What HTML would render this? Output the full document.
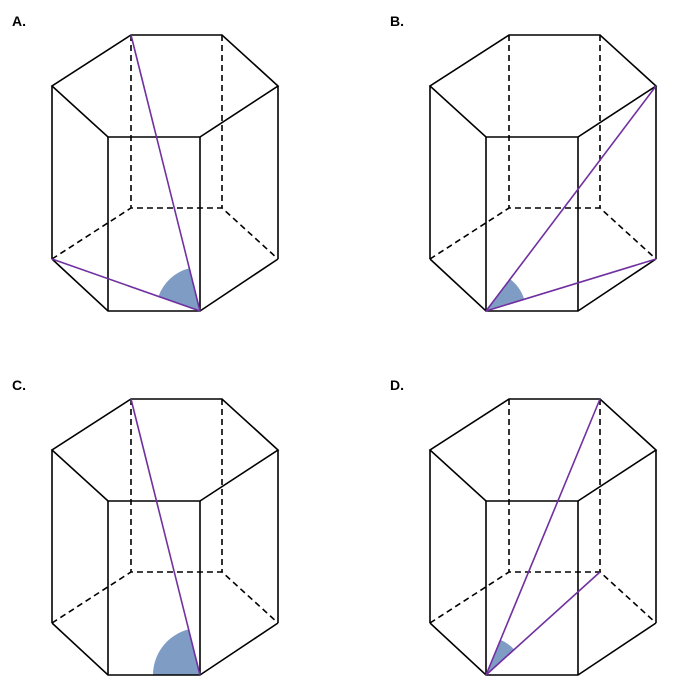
<!DOCTYPE html>
<html><head><meta charset="utf-8"><style>
html,body{margin:0;padding:0;background:#fff;}
svg{display:block;}
text{font-family:"Liberation Sans",sans-serif;font-weight:bold;font-size:14px;}
</style></head><body>
<svg width="690" height="690" viewBox="0 0 690 690" xmlns="http://www.w3.org/2000/svg">
<defs>
<g id="prism" fill="none" stroke="#000" stroke-width="1.6">
  <polygon points="131,35 222,35 278,86 200,137 108,137 52,86"/>
  <line x1="52" y1="86" x2="52" y2="259"/>
  <line x1="278" y1="86" x2="278" y2="259"/>
  <line x1="108" y1="137" x2="108" y2="311"/>
  <line x1="200" y1="137" x2="200" y2="311"/>
  <polyline points="52,259 108,311 200,311 278,259"/>
  <g stroke-dasharray="6,4">
    <line x1="131" y1="35" x2="131" y2="208"/>
    <line x1="222" y1="35" x2="222" y2="208"/>
    <polyline points="52,259 131,208 222,208 278,259"/>
  </g>
</g>
</defs>
<text x="12" y="26">A.</text>
<text x="390" y="26">B.</text>
<text x="12" y="390">C.</text>
<text x="390" y="390">D.</text>

<!-- A -->
<path d="M200,311 L189.3,268.3 A44,44 0 0 0 158.5,296.4 Z" fill="#7f9cc4"/>
<use href="#prism"/>
<g stroke="#7030a0" stroke-width="1.6">
<line x1="200" y1="311" x2="131" y2="35"/>
<line x1="200" y1="311" x2="52" y2="259"/>
</g>

<!-- B -->
<path d="M486,311 L510.1,279.1 A40,40 0 0 1 524.2,299.3 Z" fill="#7f9cc4"/>
<use href="#prism" transform="translate(378,0)"/>
<g stroke="#7030a0" stroke-width="1.6">
<line x1="486" y1="311" x2="656" y2="86"/>
<line x1="486" y1="311" x2="656" y2="259"/>
</g>

<!-- C -->
<path d="M200,675 L188.6,629.4 A47,47 0 0 0 153,675 Z" fill="#7f9cc4"/>
<use href="#prism" transform="translate(0,364)"/>
<g stroke="#7030a0" stroke-width="1.6">
<line x1="200" y1="675" x2="131" y2="399"/>
</g>

<!-- D -->
<path d="M486,675 L500.5,639.9 A38,38 0 0 1 514.2,649.5 Z" fill="#7f9cc4"/>
<use href="#prism" transform="translate(378,364)"/>
<g stroke="#7030a0" stroke-width="1.6">
<line x1="486" y1="675" x2="600" y2="399"/>
<line x1="486" y1="675" x2="600" y2="572"/>
</g>
</svg>
</body></html>
